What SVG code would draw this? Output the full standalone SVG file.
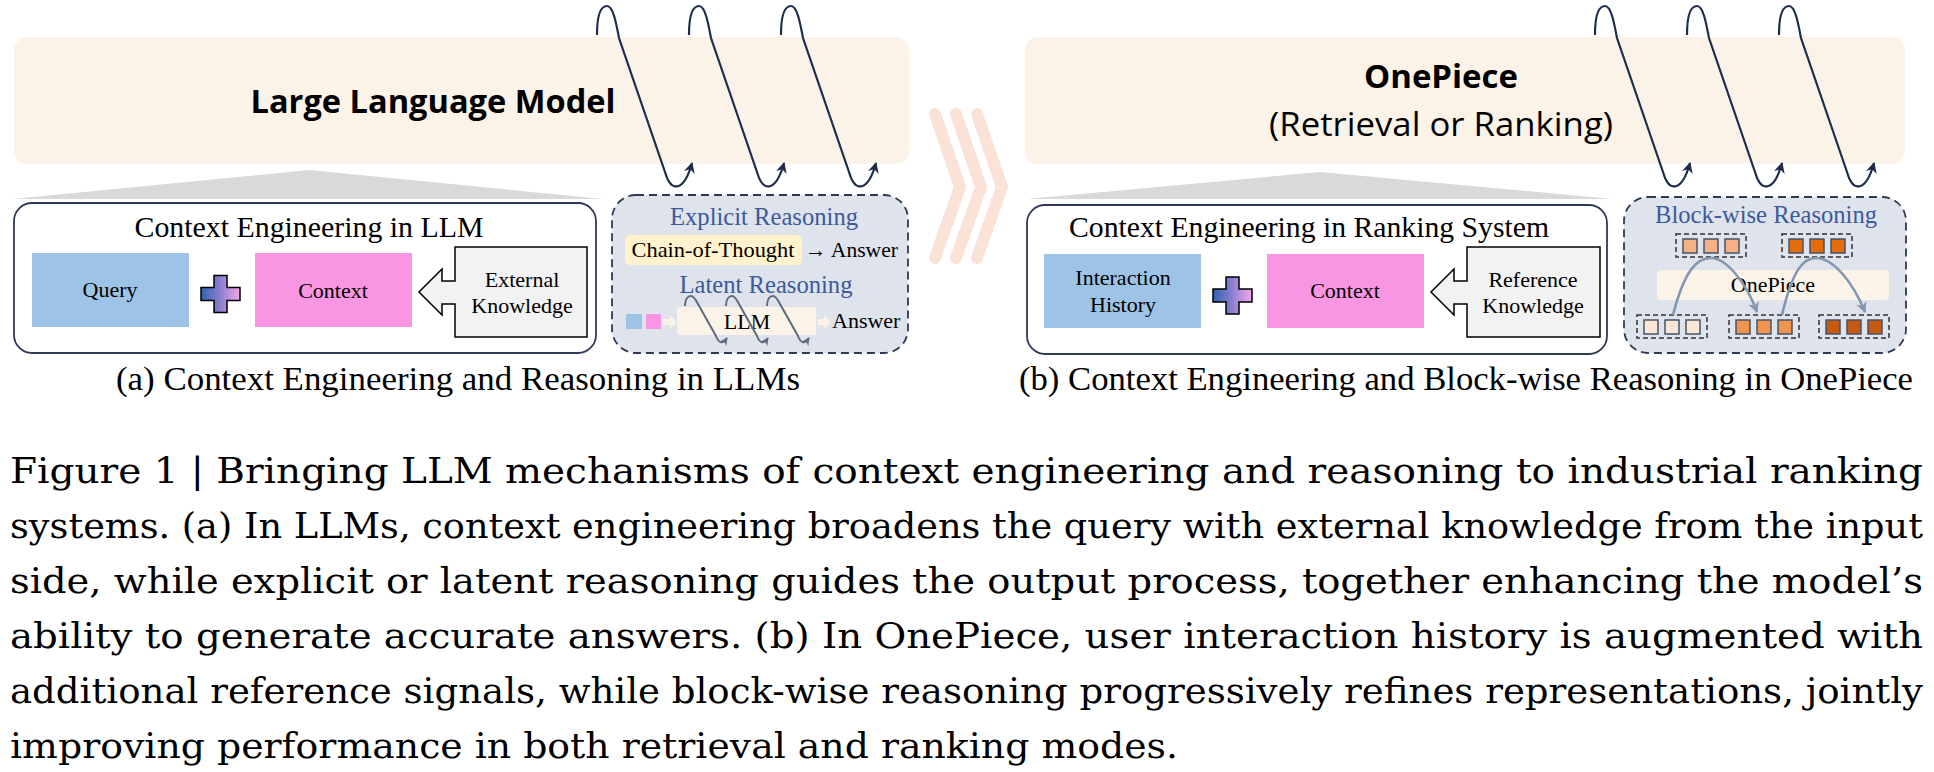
<svg xmlns="http://www.w3.org/2000/svg" width="1934" height="772" viewBox="0 0 1934 772">
<style>
.serif{font-family:"Liberation Serif","Times New Roman",serif;fill:#000}
.cap{font-family:"DejaVu Serif","Liberation Serif",serif;fill:#000}
.sans{font-family:"Open Sans","Liberation Sans",sans-serif;fill:#000}
.bigbox{fill:#FCF3E8}
.tri{fill:#D9D9D9}
.cebox{fill:#FFFFFF;stroke:#2F3B55;stroke-width:1.8}
.dbox{fill:#DEE3EC;stroke:#2F3B55;stroke-width:1.8;stroke-dasharray:8 5}
.blue{fill:#9DC3E6}
.pink{fill:#F996E4}
.callout{fill:#F2F2F2;stroke:#000;stroke-width:1.5}
.plus{fill:url(#pg);stroke:#000;stroke-width:1.5}
.loop{fill:none;stroke:#1F2D4D;stroke-width:2.2;marker-end:url(#ah)}
.sloop{fill:none;stroke:#5F6B80;stroke-width:2;marker-end:url(#ahs)}
.barc{fill:none;stroke:#8497B0;stroke-width:2.6;marker-end:url(#ahb)}
.chev{fill:none;stroke:#FAE3D6;stroke-width:12;stroke-linecap:round;stroke-linejoin:miter}
.grp{fill:none;stroke:#333;stroke-width:1.5;stroke-dasharray:5 3}
.sq{stroke:#44546A;stroke-width:1.5}
.rtitle{font-family:"Liberation Serif","Times New Roman",serif;fill:#3C5A9A}
.peach{fill:#FCF3E8}
</style>
<defs>
<linearGradient id="pg" x1="0" y1="0" x2="1" y2="0">
<stop offset="0" stop-color="#2E62AE"/>
<stop offset="0.5" stop-color="#8E80D0"/>
<stop offset="1" stop-color="#F4A8E8"/>
</linearGradient>
<marker id="ah" viewBox="0 0 10 10" refX="9" refY="5" markerWidth="11" markerHeight="11" markerUnits="userSpaceOnUse" orient="auto"><path d="M0,0 L10,5 L0,10 L3,5 Z" fill="#1F2D4D"/></marker>
<marker id="ahs" viewBox="0 0 10 10" refX="9" refY="5" markerWidth="8" markerHeight="8" markerUnits="userSpaceOnUse" orient="auto"><path d="M0,0 L10,5 L0,10 L3,5 Z" fill="#5F6B80"/></marker>
<marker id="ahb" viewBox="0 0 10 10" refX="9" refY="5" markerWidth="11" markerHeight="11" markerUnits="userSpaceOnUse" orient="auto"><path d="M0,0 L10,5 L0,10 L3,5 Z" fill="#8497B0"/></marker>
</defs>
<rect width="1934" height="772" fill="#FFFFFF"/>

<!-- Left panel -->
<g id="llm-model">
<rect class="bigbox" x="14" y="37" width="895" height="127" rx="13"/>
<text class="sans" x="433" y="113" font-size="32" font-weight="700" text-anchor="middle" textLength="365" lengthAdjust="spacingAndGlyphs">Large Language Model</text>
</g>
<polygon id="llm-fan" class="tri" points="309,170 603,199 13,199"/>

<g id="ce-llm">
<rect class="cebox" x="14" y="203" width="582" height="150" rx="18"/>
<text class="serif" x="309" y="237" font-size="30" text-anchor="middle" textLength="349" lengthAdjust="spacingAndGlyphs">Context Engineering in LLM</text>
</g>
<g id="query">
<rect class="blue" x="32" y="253" width="157" height="74"/>
<text class="serif" x="110" y="297" font-size="22" text-anchor="middle">Query</text>
</g>
<path id="plus-left" class="plus" d="M214,275.5 H227 V287.5 H240 V300.5 H227 V312.5 H214 V300.5 H201 V287.5 H214 Z"/>
<g id="context-left">
<rect class="pink" x="255" y="253" width="157" height="74"/>
<text class="serif" x="333" y="298" font-size="22" text-anchor="middle">Context</text>
</g>
<g id="external-knowledge">
<path class="callout" d="M455,247 H587 V337 H455 V304 H442 V315 L419,292 L442,269 V281 H455 Z"/>
<text class="serif" x="522" y="287" font-size="22" text-anchor="middle">External</text>
<text class="serif" x="522" y="313" font-size="22" text-anchor="middle">Knowledge</text>
</g>

<g id="reasoning-llm">
<rect class="dbox" x="612" y="195" width="296" height="158" rx="24"/>
<text class="rtitle" x="764" y="225" font-size="24.5" text-anchor="middle" textLength="188" lengthAdjust="spacingAndGlyphs">Explicit Reasoning</text>
<rect x="625" y="235" width="177" height="30" rx="5" fill="#FFF2CC"/>
<text class="serif" x="713" y="257" font-size="22" text-anchor="middle" textLength="163" lengthAdjust="spacingAndGlyphs">Chain-of-Thought</text>
<text class="serif" x="805" y="257" font-size="22" textLength="93" lengthAdjust="spacingAndGlyphs">→ Answer</text>
<text class="rtitle" x="766" y="293" font-size="24.5" text-anchor="middle" textLength="173" lengthAdjust="spacingAndGlyphs">Latent Reasoning</text>
<rect x="626" y="314" width="16" height="15" fill="#9DC3E6"/>
<rect x="646" y="314" width="15" height="15" fill="#F996E4"/>
<polygon class="peach" points="663,319 670,319 670,315 677,322 670,329 670,325 663,325"/>
<rect class="peach" x="677" y="307" width="139" height="28" rx="3"/>
<text class="serif" x="747" y="329" font-size="22" text-anchor="middle">LLM</text>
<polygon class="peach" points="818,319 824,319 824,315 831,322 824,329 824,325 818,325"/>
<text class="serif" x="832" y="328" font-size="22">Answer</text>
</g>

<!-- Middle chevrons -->
<g id="transition-chevrons">
<polyline class="chev" points="935,114 960,187 935,258"/>
<polyline class="chev" points="956,114 981,187 956,258"/>
<polyline class="chev" points="977,114 1002,187 977,258"/>
</g>

<!-- Right panel -->
<g id="onepiece-model">
<rect class="bigbox" x="1025" y="37" width="880" height="127" rx="13"/>
<text class="sans" x="1441" y="88" font-size="32" font-weight="700" text-anchor="middle" textLength="154" lengthAdjust="spacingAndGlyphs">OnePiece</text>
<text class="sans" x="1441" y="136" font-size="32" text-anchor="middle" textLength="344" lengthAdjust="spacingAndGlyphs">(Retrieval or Ranking)</text>
</g>
<polygon id="onepiece-fan" class="tri" points="1320,172 1612,199 1027,199"/>

<g id="ce-ranking">
<rect class="cebox" x="1027" y="205" width="580" height="149" rx="18"/>
<text class="serif" x="1309" y="237" font-size="30" text-anchor="middle" textLength="480" lengthAdjust="spacingAndGlyphs">Context Engineering in Ranking System</text>
</g>
<g id="interaction-history">
<rect class="blue" x="1044" y="254" width="157" height="74"/>
<text class="serif" x="1123" y="285" font-size="22" text-anchor="middle">Interaction</text>
<text class="serif" x="1123" y="312" font-size="22" text-anchor="middle">History</text>
</g>
<path id="plus-right" class="plus" d="M1226,277 H1239 V289 H1252 V302 H1239 V314 H1226 V302 H1213 V289 H1226 Z"/>
<g id="context-right">
<rect class="pink" x="1267" y="254" width="157" height="74"/>
<text class="serif" x="1345" y="298" font-size="22" text-anchor="middle">Context</text>
</g>
<g id="reference-knowledge">
<path class="callout" d="M1467,247 H1600 V337 H1467 V304 H1454 V315 L1431,292 L1454,269 V281 H1467 Z"/>
<text class="serif" x="1533" y="287" font-size="22" text-anchor="middle">Reference</text>
<text class="serif" x="1533" y="313" font-size="22" text-anchor="middle">Knowledge</text>
</g>

<g id="reasoning-blockwise">
<rect class="dbox" x="1624" y="197" width="282" height="156" rx="24"/>
<text class="rtitle" x="1766" y="223" font-size="24.5" text-anchor="middle" textLength="222" lengthAdjust="spacingAndGlyphs">Block-wise Reasoning</text>
<rect class="peach" x="1657" y="270" width="232" height="30" rx="4"/>
<text class="serif" x="1773" y="292" font-size="22" text-anchor="middle">OnePiece</text>
<rect class="grp" x="1676" y="234" width="70" height="23"/>
<rect class="sq" x="1683" y="239" width="14" height="14" fill="#F4B183"/>
<rect class="sq" x="1704" y="239" width="14" height="14" fill="#F4B183"/>
<rect class="sq" x="1725" y="239" width="14" height="14" fill="#F4B183"/>
<rect class="grp" x="1782" y="234" width="70" height="23"/>
<rect class="sq" x="1789" y="239" width="14" height="14" fill="#E46C0A"/>
<rect class="sq" x="1810" y="239" width="14" height="14" fill="#E46C0A"/>
<rect class="sq" x="1831" y="239" width="14" height="14" fill="#E46C0A"/>
<rect class="grp" x="1637" y="315" width="70" height="23"/>
<rect class="sq" x="1644" y="320" width="14" height="14" fill="#FBE5D6"/>
<rect class="sq" x="1665" y="320" width="14" height="14" fill="#FBE5D6"/>
<rect class="sq" x="1686" y="320" width="14" height="14" fill="#FBE5D6"/>
<rect class="grp" x="1729" y="315" width="70" height="23"/>
<rect class="sq" x="1736" y="320" width="14" height="14" fill="#F0954F"/>
<rect class="sq" x="1757" y="320" width="14" height="14" fill="#F0954F"/>
<rect class="sq" x="1778" y="320" width="14" height="14" fill="#F0954F"/>
<rect class="grp" x="1819" y="315" width="70" height="23"/>
<rect class="sq" x="1826" y="320" width="14" height="14" fill="#C55A11"/>
<rect class="sq" x="1847" y="320" width="14" height="14" fill="#C55A11"/>
<rect class="sq" x="1868" y="320" width="14" height="14" fill="#C55A11"/>
</g>

<!-- Connectors -->
<g id="connectors">
<path class="loop" d="M597,35 C597,12 602,6 607,6 C613,6 616,22 619,38 L665,172 C671,193 684,192 692,163"/>
<path class="loop" d="M689,35 C689,12 694,6 699,6 C705,6 708,22 711,38 L757,172 C763,193 776,192 784,163"/>
<path class="loop" d="M781,35 C781,12 786,6 791,6 C797,6 800,22 803,38 L849,172 C855,193 868,192 876,163"/>
<path class="loop" d="M1595,35 C1595,12 1600,6 1605,6 C1611,6 1614,22 1617,38 L1663,172 C1669,193 1682,192 1690,163"/>
<path class="loop" d="M1687,35 C1687,12 1692,6 1697,6 C1703,6 1706,22 1709,38 L1755,172 C1761,193 1774,192 1782,163"/>
<path class="loop" d="M1779,35 C1779,12 1784,6 1789,6 C1795,6 1798,22 1801,38 L1847,172 C1853,193 1866,192 1874,163"/>
<path class="sloop" d="M685,306 C685,299 688,296 691,296 C694,296 696,300 698,304 L716,336 C719,344 723,344 727,338"/>
<path class="sloop" d="M726,306 C726,299 729,296 732,296 C735,296 737,300 739,304 L757,336 C760,344 764,344 768,338"/>
<path class="sloop" d="M767,306 C767,299 770,296 773,296 C776,296 778,300 780,304 L798,336 C801,344 805,344 809,338"/>
<path class="barc" d="M1673,315 C1685,268 1698,258 1711,258 C1726,258 1746,282 1757,312"/>
<path class="barc" d="M1782,315 C1793,268 1804,258 1816,258 C1833,258 1853,282 1865,312"/>
</g>

<!-- Sub-captions -->
<text id="caption-a" class="serif" x="458" y="390" font-size="34.5" text-anchor="middle" textLength="684" lengthAdjust="spacingAndGlyphs">(a) Context Engineering and Reasoning in LLMs</text>
<text id="caption-b" class="serif" x="1466" y="390" font-size="34.5" text-anchor="middle" textLength="894" lengthAdjust="spacingAndGlyphs">(b) Context Engineering and Block-wise Reasoning in OnePiece</text>

<!-- Figure caption -->
<g id="figure-caption" class="cap" font-size="36">
<text x="10" y="483" textLength="1913" lengthAdjust="spacingAndGlyphs">Figure 1 | Bringing LLM mechanisms of context engineering and reasoning to industrial ranking</text>
<text x="10" y="538" textLength="1913" lengthAdjust="spacingAndGlyphs">systems. (a) In LLMs, context engineering broadens the query with external knowledge from the input</text>
<text x="10" y="593" textLength="1913" lengthAdjust="spacingAndGlyphs">side, while explicit or latent reasoning guides the output process, together enhancing the model’s</text>
<text x="10" y="648" textLength="1913" lengthAdjust="spacingAndGlyphs">ability to generate accurate answers. (b) In OnePiece, user interaction history is augmented with</text>
<text x="10" y="703" textLength="1913" lengthAdjust="spacingAndGlyphs">additional reference signals, while block-wise reasoning progressively refines representations, jointly</text>
<text x="10" y="758" textLength="1168" lengthAdjust="spacingAndGlyphs">improving performance in both retrieval and ranking modes.</text>
</g>
</svg>
